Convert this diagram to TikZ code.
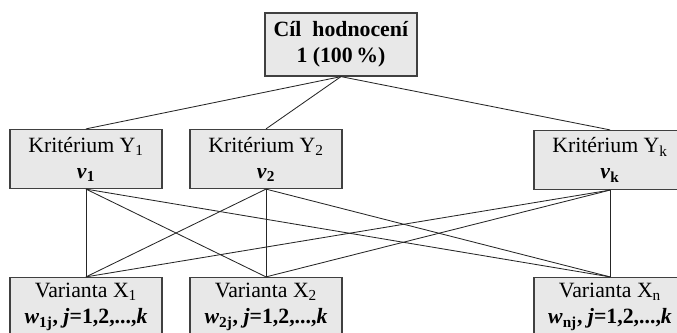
\documentclass[tikz,border=0pt]{standalone}
\usepackage{fontspec}
\setmainfont{Liberation Serif}
\usepackage{tikz}
\usetikzlibrary{calc}

\begin{document}
\begin{tikzpicture}[x=0.025cm, y=-0.025cm,
  box/.style={draw=black!75, line width=1pt, fill=black!9, align=center,
    minimum width=3.8cm, minimum height=1.47cm, inner sep=1pt,
    font=\fontsize{15.5}{18.5}\selectfont},
  link/.style={draw=black!85, line width=0.6pt}]
\useasboundingbox (0,0) rectangle (677,333);
\clip (0,0) rectangle (677,333);

\node[box, minimum height=1.57cm] (goal) at (341,44.5)
  {\textbf{Cíl\ \ hodnocení}\\ \textbf{1 (100\,\%)}};

\node[box] (y1) at (86,159) {Kritérium Y\textsubscript{1}\\ \textbf{\textit{v}\textsubscript{1}}};
\node[box] (y2) at (266,159) {Kritérium Y\textsubscript{2}\\ \textbf{\textit{v}\textsubscript{2}}};
\node[box] (yk) at (610,160) {Kritérium Y\textsubscript{k}\\ \textbf{\textit{v}\textsubscript{k}}};

\node[box] (x1) at (86,307) {Varianta X\textsubscript{1}\\ \textbf{\textit{w}\textsubscript{1j}, \textit{j}=1,2,...,\textit{k}}};
\node[box] (x2) at (266,307) {Varianta X\textsubscript{2}\\ \textbf{\textit{w}\textsubscript{2j}, \textit{j}=1,2,...,\textit{k}}};
\node[box] (xn) at (610,307) {Varianta X\textsubscript{n}\\ \textbf{\textit{w}\textsubscript{nj}, \textit{j}=1,2,...,\textit{k}}};

\draw[link] (goal.south) -- (y1.north);
\draw[link] (goal.south) -- (y2.north);
\draw[link] (goal.south) -- (yk.north);

\draw[link] (y1.south) -- (x1.north);
\draw[link] (y1.south) -- (x2.north);
\draw[link] (y1.south) -- (xn.north);
\draw[link] (y2.south) -- (x1.north);
\draw[link] (y2.south) -- (x2.north);
\draw[link] (y2.south) -- (xn.north);
\draw[link] (yk.south) -- (x1.north);
\draw[link] (yk.south) -- (x2.north);
\draw[link] (yk.south) -- (xn.north);

\end{tikzpicture}
\end{document}
